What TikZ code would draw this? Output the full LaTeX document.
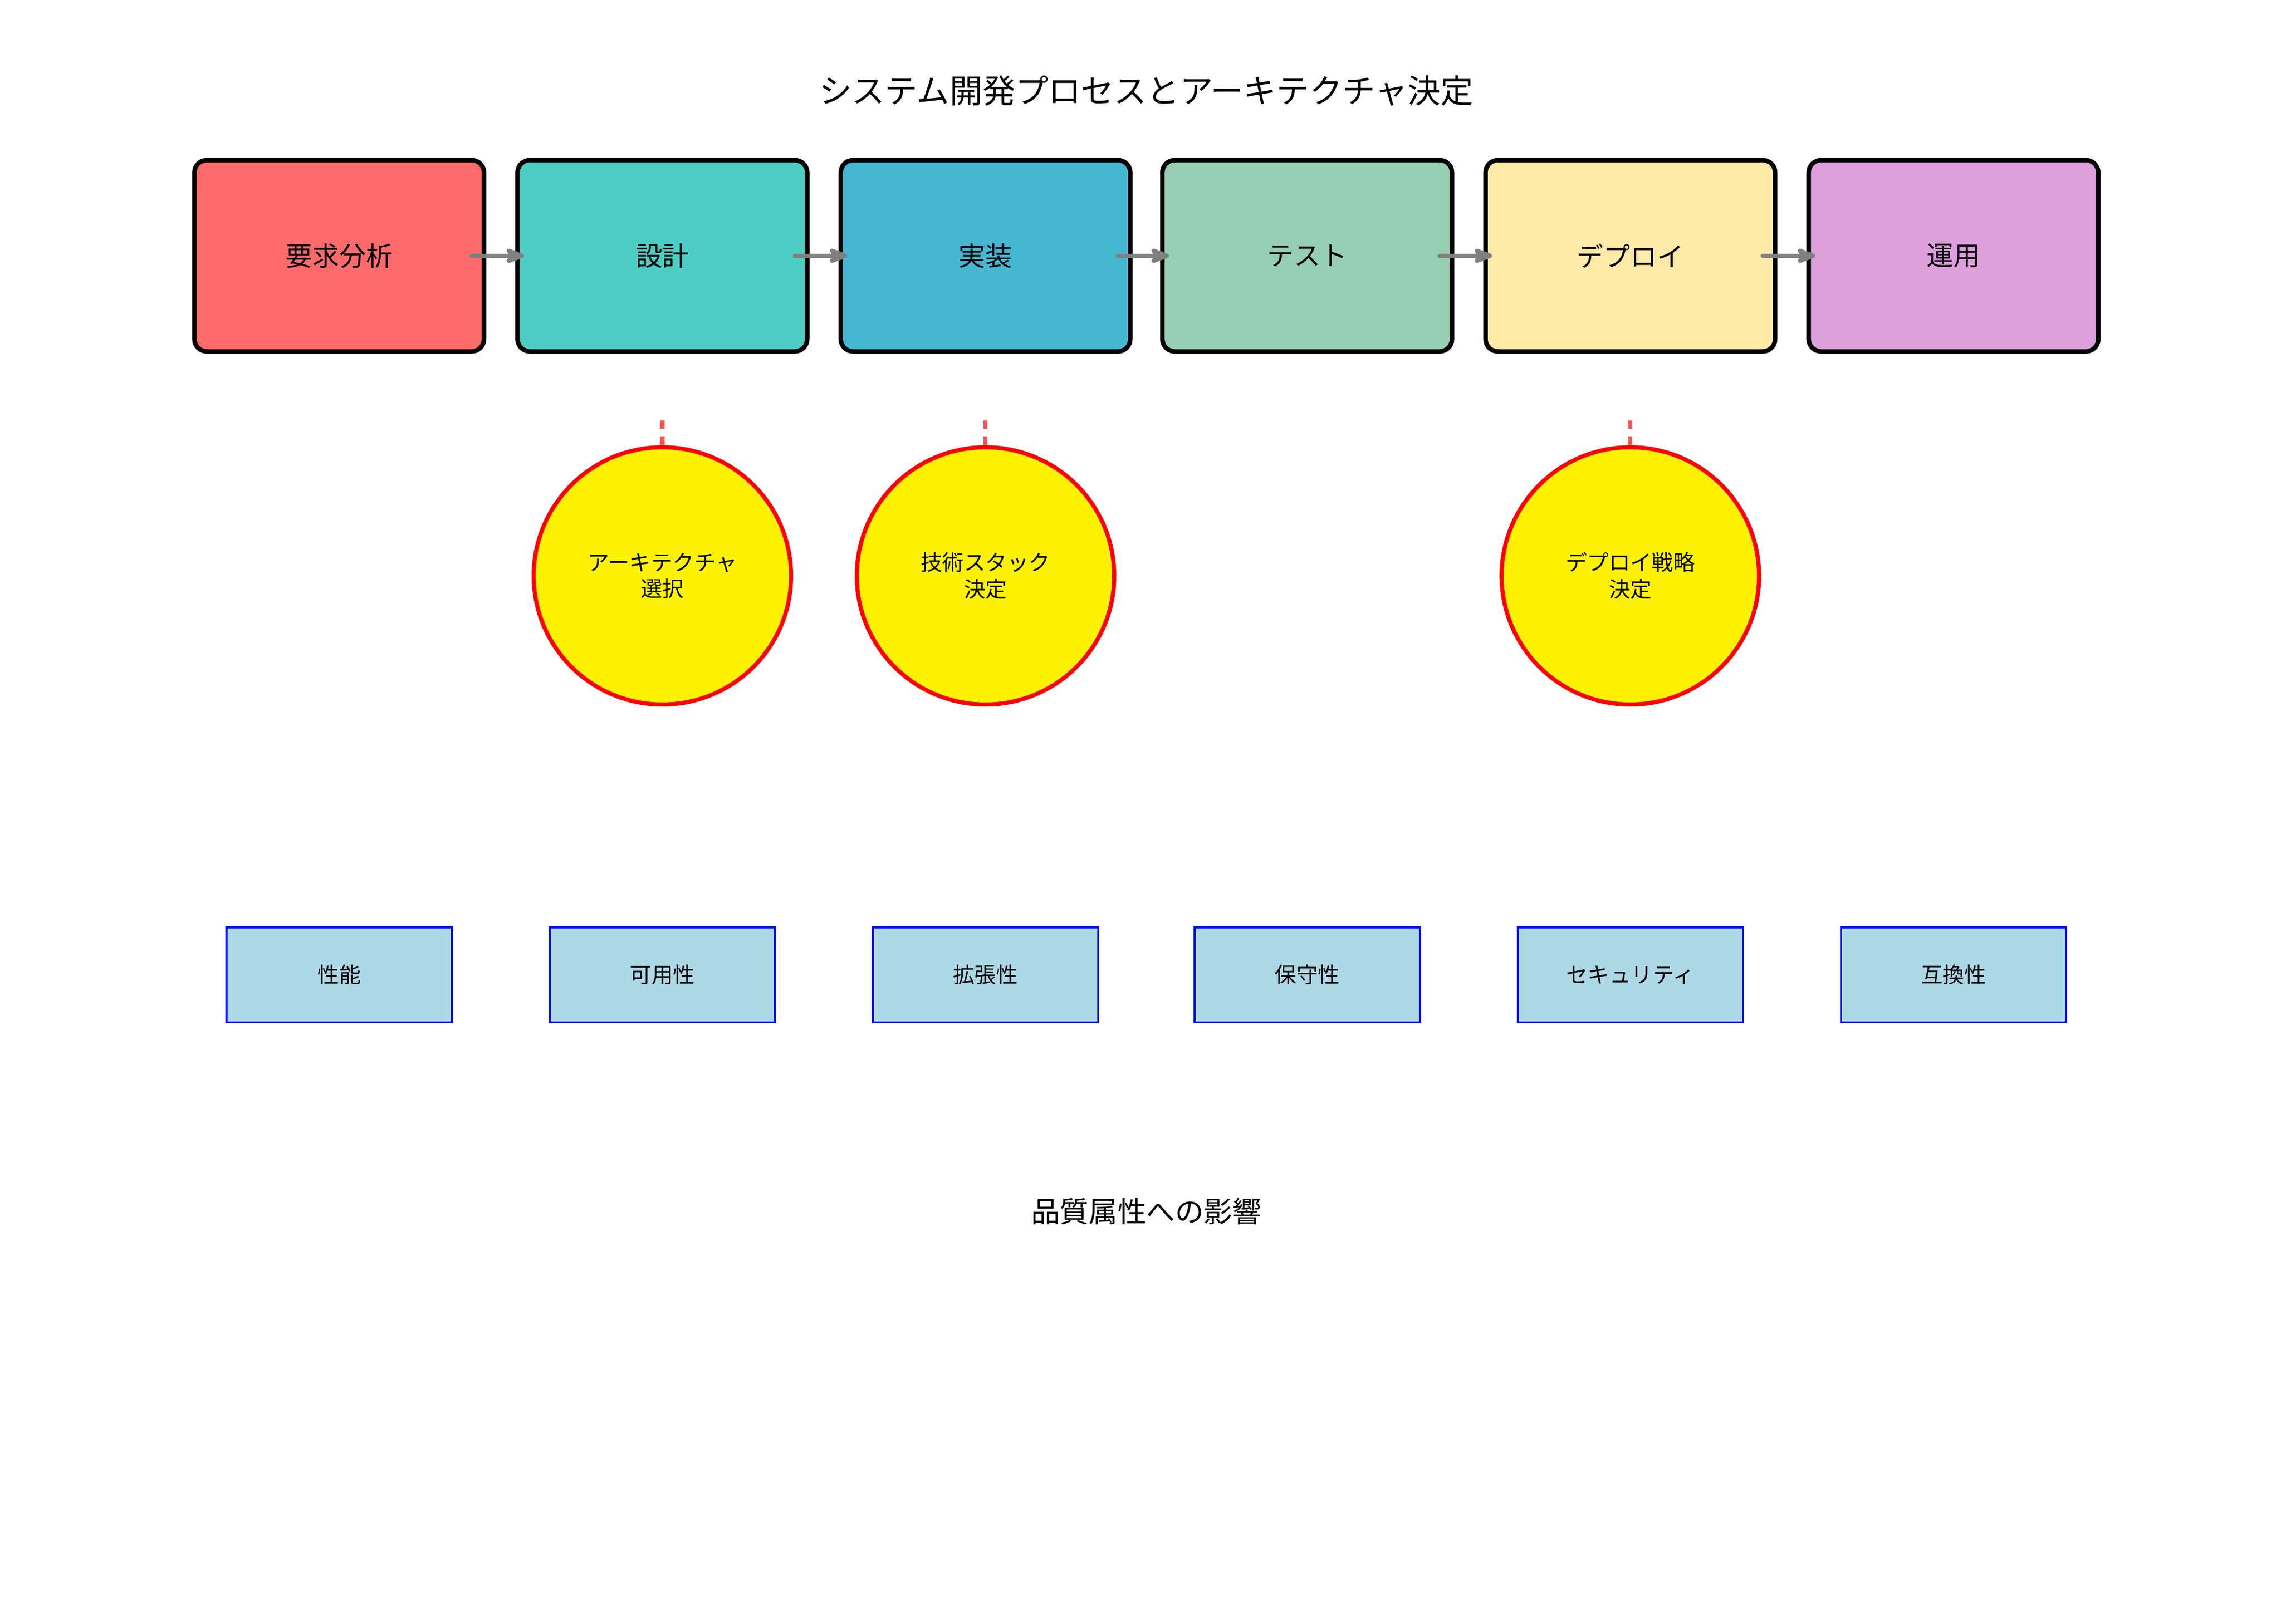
\documentclass[tikz,border=0pt]{standalone}
\usepackage{fontspec}
\setmainfont{Noto Sans CJK JP}
\usetikzlibrary{positioning, arrows.meta}
\definecolor{cReq}{HTML}{FF6B6B}
\definecolor{cDes}{HTML}{4ECDC4}
\definecolor{cImp}{HTML}{45B7D1}
\definecolor{cTst}{HTML}{96CEB4}
\definecolor{cDep}{HTML}{FFEAA7}
\definecolor{cOps}{HTML}{DDA0DD}
\definecolor{cQa}{HTML}{ADD8E6}
\definecolor{cDash}{HTML}{FF4D4D}

\begin{document}
\begin{tikzpicture}[x=0.025cm, y=-0.025cm,
	phase/.style={draw=black, line width=2.2pt, rounded corners=6pt, minimum width=4.95cm, minimum height=3.27cm, font=\fontsize{13}{15}\selectfont},
	decision/.style={circle, draw=red, fill=yellow, line width=2pt, minimum size=4.4cm, align=center, font=\fontsize{10.5}{13}\selectfont, inner sep=0pt},
	quality/.style={draw=blue, fill=cQa, line width=1pt, minimum width=3.85cm, minimum height=1.62cm, font=\fontsize{10.5}{13}\selectfont},
	flow/.style={->, >={Stealth[round]}, draw=gray, line width=2.2pt, line cap=round},
	link/.style={draw=cDash, line width=2pt, dash pattern=on 4pt off 4pt}]
	\useasboundingbox (0,0) rectangle (1560,1111);
	\node[font=\fontsize{16}{19}\selectfont] (title) at (784,62) {システム開発プロセスとアーキテクチャ決定};
	% phases
	\node[phase, fill=cReq] (req) at (232,175) {要求分析};
	\node[phase, fill=cDes] (des) at (453,175) {設計};
	\node[phase, fill=cImp] (imp) at (674,175) {実装};
	\node[phase, fill=cTst] (tst) at (894,175) {テスト};
	\node[phase, fill=cDep] (dep) at (1115,175) {デプロイ};
	\node[phase, fill=cOps] (ops) at (1336,175) {運用};
	\foreach \a/\b in {req/des, des/imp, imp/tst, tst/dep, dep/ops}
		\draw[flow] ([xshift=-0.25cm]\a.east) -- ([xshift=0.15cm]\b.west);
	% decisions
	\node[decision] (arch) at (453,394) {アーキテクチャ\\選択};
	\node[decision] (stack) at (674,394) {技術スタック\\決定};
	\node[decision] (strat) at (1115,394) {デプロイ戦略\\決定};
	\foreach \c in {arch, stack, strat}
		\draw[link] (\c.north) -- ++(0,-21);
	% quality attributes
	\foreach \x/\n/\t in {232/perf/性能, 453/avail/可用性, 674/scal/拡張性, 894/maint/保守性, 1115/sec/セキュリティ, 1336/comp/互換性}
		\node[quality] (\n) at (\x,667) {\t};
	\node[font=\fontsize{14}{17}\selectfont] (impact) at (784,829) {品質属性への影響};
\end{tikzpicture}
\end{document}
